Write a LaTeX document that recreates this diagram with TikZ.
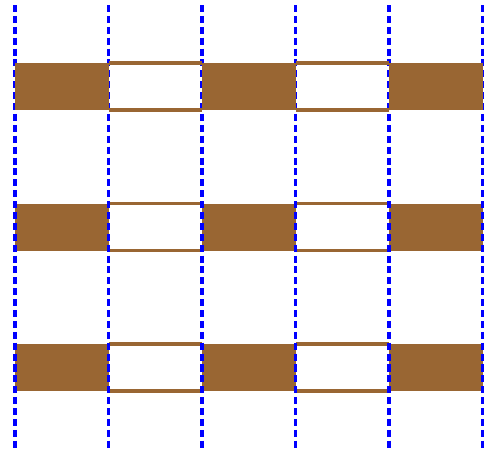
\documentclass[tikz,border=0pt]{standalone}
\usepackage{xcolor}
\usepackage{tikz}
\definecolor{BandBrown}{HTML}{996633}
\definecolor{GridBlue}{HTML}{0000FF}

\begin{document}
\begin{tikzpicture}[x=0.02cm, y=-0.02cm]
  \def\W{93.5}\def\H{47}
  \def\xa{15}\def\ya{63}\def\dy{140.5}
  \useasboundingbox (0,0) rectangle (501,450);
  \tikzset{
    gridline/.style={GridBlue, line width=2.2pt, dash pattern=on 4pt off 2.2pt},
    blockfill/.style={fill=BandBrown},
    openedge/.style={BandBrown, line width=1.8pt}
  }
  % lower two rows sit under the dashed grid
  \foreach \r in {1,2} {
    \pgfmathsetmacro\yt{\ya+\r*\dy}
    \foreach \c in {0,2,4}
      \fill[blockfill] ({\xa+\c*\W},\yt) rectangle ({\xa+(\c+1)*\W},{\yt+\H});
    \foreach \c in {1,3} {
      \draw[openedge] ({\xa+\c*\W},\yt) -- ({\xa+(\c+1)*\W},\yt);
      \draw[openedge] ({\xa+\c*\W},{\yt+\H}) -- ({\xa+(\c+1)*\W},{\yt+\H});
    }
  }
  % vertical dashed grid
  \foreach \c in {0,...,5}
    \draw[gridline] ({\xa+\c*\W},5) -- ({\xa+\c*\W},448);
  % top row lies over the grid
  \foreach \c in {0,2,4}
    \fill[blockfill] ({\xa+\c*\W},\ya) rectangle ({\xa+(\c+1)*\W},{\ya+\H});
  \foreach \c in {1,3} {
    \draw[openedge] ({\xa+\c*\W},\ya) -- ({\xa+(\c+1)*\W},\ya);
    \draw[openedge] ({\xa+\c*\W},{\ya+\H}) -- ({\xa+(\c+1)*\W},{\ya+\H});
  }
\end{tikzpicture}
\end{document}
